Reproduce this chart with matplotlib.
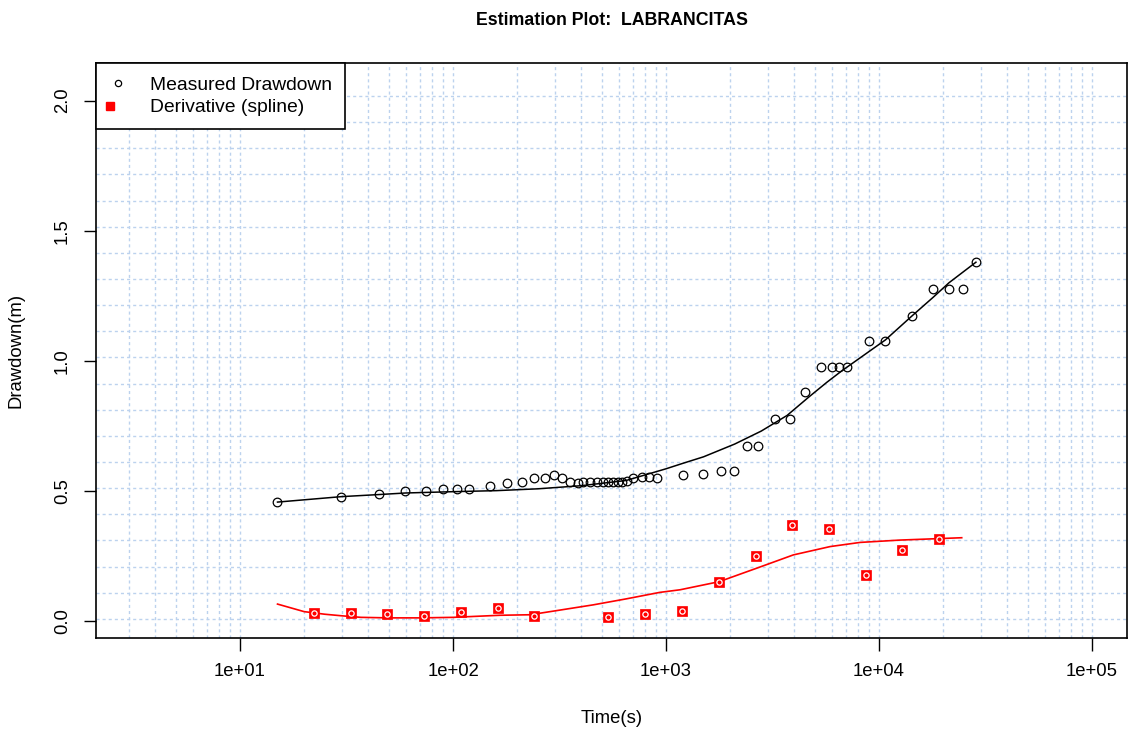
import numpy as np
import matplotlib
matplotlib.use("Agg")
import matplotlib.pyplot as plt
from matplotlib.lines import Line2D
from matplotlib.legend_handler import HandlerTuple

plt.rcParams['font.family'] = ['Liberation Sans', 'DejaVu Sans']

# ---------------- data ----------------
meas_t = [14.9, 29.8, 45, 59.5, 74.7, 89.5, 104.8, 119, 149, 180, 210, 240, 270, 298,
          324, 354, 385, 408, 440, 474, 506, 534, 564, 596, 621, 654, 700, 771, 832,
          907, 1202, 1492, 1811, 2085, 2400, 2700, 3250, 3820, 4495, 5320, 6000,
          6510, 7050, 9000, 10670, 14250, 17990, 21320, 24880, 28530]
meas_s = [0.457, 0.475, 0.488, 0.500, 0.500, 0.506, 0.507, 0.507, 0.520, 0.531, 0.535,
          0.548, 0.548, 0.561, 0.548, 0.535, 0.529, 0.535, 0.535, 0.535, 0.535, 0.535,
          0.535, 0.535, 0.535, 0.539, 0.548, 0.552, 0.552, 0.548, 0.561, 0.565, 0.578,
          0.578, 0.674, 0.674, 0.776, 0.776, 0.880, 0.975, 0.975, 0.975, 0.975, 1.077,
          1.077, 1.173, 1.276, 1.276, 1.276, 1.379]

fit_t = [15, 30, 45, 60, 100, 160, 250, 400, 650, 1000, 1200, 1500, 2100, 2800,
         3700, 4700, 5700, 6700, 8500, 10700, 14300, 18000, 21300, 28500]
fit_s = [0.457, 0.478, 0.486, 0.492, 0.497, 0.501, 0.508, 0.520, 0.540, 0.585, 0.606,
         0.631, 0.680, 0.730, 0.790, 0.862, 0.918, 0.962, 1.022, 1.080, 1.173, 1.245,
         1.300, 1.379]

deriv_t = [22.3, 33.1, 49.2, 73.1, 109, 162, 241, 536, 797, 1193, 1773, 2637, 3918,
           5823, 8665, 12860, 19140]
deriv_s = [0.030, 0.030, 0.026, 0.020, 0.033, 0.051, 0.020, 0.017, 0.027, 0.040,
           0.151, 0.250, 0.369, 0.352, 0.177, 0.273, 0.315]

dline_t = [15, 20, 25, 30, 37, 50, 70, 100, 166, 230, 307, 455, 650, 935, 1164, 1774,
           2666, 3960, 5890, 8150, 12550, 24440]
dline_s = [0.065, 0.036, 0.026, 0.020, 0.014, 0.012, 0.012, 0.014, 0.022, 0.024, 0.040,
           0.062, 0.085, 0.110, 0.120, 0.151, 0.203, 0.254, 0.286, 0.302, 0.311, 0.320]

x_ticks = [1e1, 1e2, 1e3, 1e4, 1e5]
x_ticklabels = ["1e+01", "1e+02", "1e+03", "1e+04", "1e+05"]
y_ticks = [0.0, 0.5, 1.0, 1.5, 2.0]
y_ticklabels = ["0.0", "0.5", "1.0", "1.5", "2.0"]

title = "Estimation Plot:  LABRANCITAS"
xlabel = "Time(s)"
ylabel = "Drawdown(m)"
legend_labels = ["Measured Drawdown", "Derivative (spline)"]

# ---------------- figure ----------------
W, H = 1129, 730
fig = plt.figure(figsize=(W / 100, H / 100), dpi=100)
ax = fig.add_axes([96 / W, (H - 637.7) / H, (1127 - 96) / W, (637.7 - 63.3) / H])
ax.set_xscale('log')
ax.set_xlim(10 ** 0.324, 10 ** 5.164)
ax.set_ylim(-0.0642, 2.1434)

grid_col = '#bcd2ee'
grid_ls = (0, (2.2, 2.2))
# vertical grid at 1..9 x 10^n
for n in range(0, 6):
    for k in range(1, 10):
        v = k * 10 ** n
        if 10 ** 0.324 < v < 10 ** 5.164:
            ax.axvline(v, color=grid_col, lw=1.0, ls=grid_ls, zorder=0)
# horizontal grid
for i in range(21):
    ax.axhline(0.008 + 0.1005 * i, color=grid_col, lw=1.0, ls=grid_ls, zorder=0)

ax.plot(fit_t, fit_s, color='black', lw=1.1, zorder=2)
ax.plot(dline_t, dline_s, color='#ff0000', lw=1.2, zorder=2)
ax.plot(meas_t, meas_s, ls='none', marker='o', ms=6.2, mfc='none', mec='black',
        mew=0.9, zorder=3)
ax.plot(deriv_t, deriv_s, ls='none', marker='s', ms=7.4, mfc='#ff0000', mec='#ff0000',
        mew=0.5, zorder=3)
ax.plot(deriv_t, deriv_s, ls='none', marker='o', ms=3.8, mfc='none', mec='white',
        mew=0.9, zorder=4)

ax.set_xticks(x_ticks)
ax.set_xticklabels(x_ticklabels)
ax.xaxis.set_minor_locator(matplotlib.ticker.NullLocator())
ax.set_yticks(y_ticks)
ax.set_yticklabels(y_ticklabels, rotation=90, va='center')
ax.tick_params(axis='both', which='major', direction='out', length=9, width=1.0,
               labelsize=13.3, colors='black', pad=9)
for sp in ax.spines.values():
    sp.set_linewidth(1.2)
    sp.set_color('black')

ax.set_xlabel(xlabel, fontsize=13.3, va='top')
ax.xaxis.set_label_coords(0.5, -0.1255)
ax.set_ylabel(ylabel, fontsize=13.3)
ax.yaxis.set_label_coords(-0.069, 0.5)

fig.text(611.5 / W, 1 - 25 / H, title, ha='center', va='baseline',
         fontsize=12.8, fontweight='bold')

h1 = Line2D([], [], ls='none', marker='o', ms=4.5, mfc='none', mec='black', mew=0.9)
h2a = Line2D([], [], ls='none', marker='s', ms=5.5, mfc='#ff0000', mec='#ff0000')
h2b = Line2D([], [], ls='none', marker='o', ms=2.6, mfc='none', mec='white', mew=0.8)
leg = ax.legend([h1, (h2a, h2b)], legend_labels, loc='upper left',
                bbox_to_anchor=(0, 1), borderaxespad=0, fancybox=False,
                framealpha=1, edgecolor='black', fontsize=13.9,
                handler_map={tuple: HandlerTuple(ndivide=None)},
                handlelength=0.92, handletextpad=1.2, borderpad=0.68,
                labelspacing=0.25, numpoints=1)
leg.get_frame().set_linewidth(1.2)
leg.set_zorder(5)

fig.savefig('out.png', dpi=100)
